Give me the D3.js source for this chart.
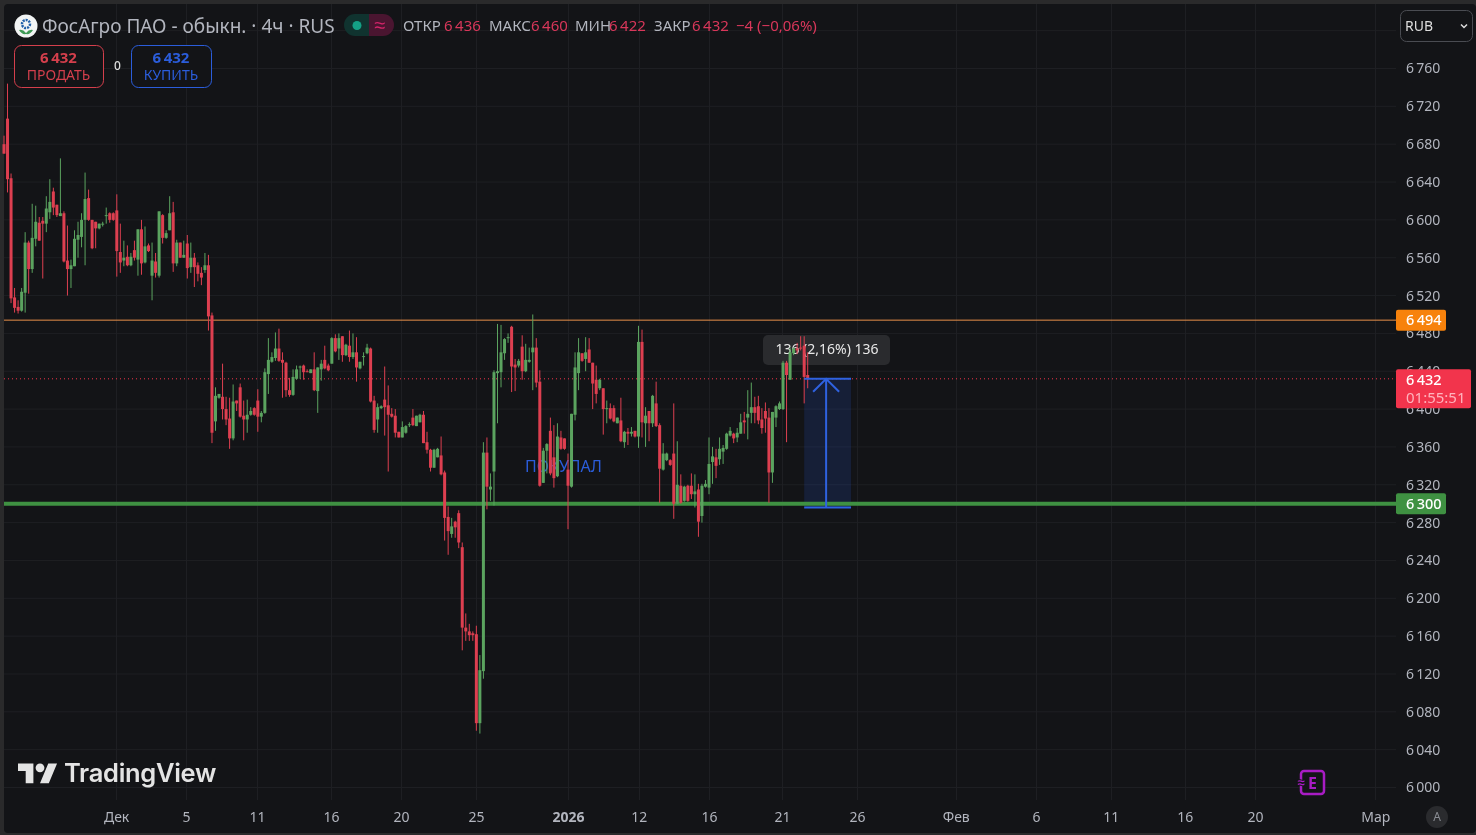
<!DOCTYPE html>
<html lang="ru">
<head>
<meta charset="utf-8">
<title>ФосАгро ПАО</title>
<script src="https://d3js.org/d3.v7.min.js"></script>
<style>
html,body{margin:0;padding:0;background:#2a2a2b;overflow:hidden}
svg{display:block;font-family:"Noto Sans",sans-serif;filter:blur(0.3px)}
</style>
</head>
<body>
<svg id="chart" width="1476" height="835"></svg>
<script>
const opens = [6680,6707,6644,6518,6508,6504,6523,6576,6548,6580,
6597,6599,6596,6608,6630,6616,6604,6607,6557,6548,
6551,6579,6582,6600,6623,6600,6598,6591,6595,6604,
6607,6607,6610,6566,6557,6561,6552,6568,6558,6590,
6555,6573,6541,6556,6541,6605,6581,6589,6608,6554,
6576,6560,6575,6550,6560,6552,6544,6547,6552,6499,
6387,6412,6413,6400,6390,6369,6409,6423,6393,6389,
6394,6401,6409,6392,6396,6437,6450,6454,6464,6452,
6449,6420,6415,6432,6444,6446,6440,6438,6442,6419,
6442,6452,6446,6448,6475,6464,6477,6457,6467,6455,
6460,6443,6455,6459,6464,6409,6389,6401,6410,6404,
6395,6393,6376,6370,6375,6383,6391,6382,6386,6394,
6365,6357,6338,6349,6351,6333,6286,6268,6281,6290,
6254,6169,6165,6163,6162,6068,6123,6354,6315,6334,
6438,6439,6459,6475,6487,6447,6446,6466,6440,6450,
6460,6465,6429,6322,6356,6377,6349,6329,6370,6369,
6336,6318,6394,6438,6459,6453,6463,6449,6431,6422,
6422,6400,6401,6401,6385,6388,6365,6376,6374,6377,
6371,6471,6385,6398,6385,6406,6383,6336,6346,6346,
6353,6300,6319,6303,6319,6319,6310,6315,6287,6318,
6317,6344,6349,6347,6355,6358,6372,6374,6370,6374,
6388,6391,6396,6402,6403,6389,6398,6391,6333,6391,
6400,6400,6449,6431,6459,6464,6465,6467,6436];

const closes = [6670,6643,6517,6507,6504,6524,6576,6548,6581,6598,
6578,6596,6612,6619,6613,6605,6607,6556,6548,6552,
6580,6584,6600,6622,6600,6570,6591,6596,6596,6605,
6600,6600,6567,6555,6560,6552,6561,6560,6590,6554,
6572,6567,6557,6544,6609,6581,6586,6607,6554,6576,
6560,6563,6549,6560,6550,6543,6539,6552,6498,6375,
6414,6416,6400,6389,6369,6408,6406,6392,6389,6394,
6398,6394,6392,6396,6439,6452,6455,6464,6451,6449,
6420,6415,6434,6442,6445,6439,6439,6442,6420,6444,
6448,6443,6441,6475,6461,6475,6457,6468,6455,6460,
6444,6450,6456,6465,6408,6378,6402,6403,6402,6394,
6392,6375,6370,6381,6382,6384,6383,6393,6394,6364,
6357,6338,6357,6358,6331,6285,6271,6276,6275,6259,
6169,6165,6161,6161,6068,6124,6354,6318,6318,6439,
6440,6460,6474,6476,6445,6444,6451,6440,6452,6452,
6465,6428,6319,6356,6363,6332,6327,6371,6358,6358,
6319,6395,6444,6460,6451,6460,6449,6427,6416,6431,
6400,6401,6390,6387,6391,6366,6376,6374,6376,6371,
6471,6386,6393,6385,6414,6382,6337,6353,6353,6341,
6300,6320,6301,6318,6303,6310,6313,6281,6319,6321,
6342,6350,6340,6358,6359,6374,6377,6369,6375,6386,
6386,6395,6402,6396,6388,6380,6390,6333,6397,6403,
6406,6449,6436,6460,6464,6462,6464,6434,6432];

const highs = [6689,6744,6649,6528,6515,6528,6587,6578,6617,6615,
6603,6603,6625,6643,6634,6616,6665,6609,6594,6558,
6589,6598,6607,6650,6632,6600,6598,6596,6598,6613,
6608,6608,6627,6596,6578,6573,6565,6578,6590,6600,
6593,6575,6576,6565,6609,6606,6589,6625,6619,6579,
6576,6578,6584,6576,6565,6555,6550,6565,6563,6502,
6423,6416,6448,6413,6412,6426,6409,6427,6409,6410,
6402,6402,6421,6398,6443,6475,6460,6481,6485,6460,
6450,6433,6442,6446,6446,6447,6442,6442,6460,6444,
6452,6467,6448,6476,6479,6480,6477,6469,6483,6480,
6476,6450,6460,6469,6465,6414,6406,6404,6445,6425,
6401,6400,6376,6387,6383,6386,6400,6393,6395,6398,
6376,6358,6358,6359,6371,6335,6297,6285,6282,6293,
6259,6184,6173,6165,6171,6140,6365,6370,6332,6441,
6490,6489,6475,6480,6488,6453,6453,6478,6469,6465,
6500,6475,6441,6359,6364,6391,6383,6385,6377,6369,
6353,6395,6460,6475,6459,6476,6475,6449,6446,6432,
6422,6409,6406,6404,6391,6412,6377,6380,6381,6377,
6488,6484,6402,6398,6415,6429,6385,6364,6354,6347,
6406,6366,6331,6319,6320,6332,6331,6321,6321,6325,
6370,6360,6358,6370,6362,6375,6381,6375,6380,6395,
6397,6420,6428,6413,6414,6401,6407,6401,6397,6404,
6408,6451,6451,6465,6465,6470,6477,6477,6460];

const lows = [6670,6629,6512,6502,6501,6503,6502,6522,6544,6572,
6578,6538,6587,6601,6605,6603,6604,6555,6520,6528,
6551,6560,6571,6552,6599,6569,6570,6590,6593,6596,
6597,6599,6540,6544,6551,6551,6551,6557,6541,6542,
6554,6566,6515,6539,6539,6575,6580,6589,6545,6551,
6560,6560,6538,6544,6529,6535,6531,6544,6483,6364,
6377,6411,6389,6383,6358,6367,6398,6391,6367,6375,
6393,6393,6376,6386,6395,6416,6449,6451,6450,6412,
6413,6413,6414,6431,6432,6431,6439,6438,6419,6396,
6430,6442,6440,6448,6460,6452,6450,6456,6450,6453,
6429,6442,6446,6458,6407,6375,6375,6400,6372,6334,
6391,6370,6370,6370,6374,6381,6382,6382,6386,6364,
6353,6334,6338,6349,6330,6261,6246,6264,6264,6253,
6145,6155,6155,6155,6060,6057,6115,6294,6303,6298,
6385,6423,6452,6470,6418,6419,6444,6431,6439,6449,
6420,6423,6318,6322,6332,6330,6317,6328,6357,6357,
6273,6317,6388,6420,6450,6440,6449,6400,6406,6420,
6373,6385,6389,6386,6385,6365,6359,6362,6371,6370,
6359,6370,6360,6366,6381,6381,6301,6335,6345,6340,
6284,6300,6300,6302,6302,6305,6296,6265,6280,6317,
6310,6321,6327,6341,6342,6357,6371,6364,6365,6374,
6374,6368,6385,6385,6384,6374,6375,6301,6322,6381,
6399,6399,6365,6431,6457,6458,6462,6406,6422];

const priceTicks = [6760,6720,6680,6640,6600,6560,6520,6480,6440,6400,6360,6320,6280,6240,6200,6160,6120,6080,6040,6000];
const gridOnlyPrices = [6800];
const timeTickBars = [31.8,51.6,71.8,92.8,112.6,133.9,160,180.1,200,220.7,242,270,292.8,314,335,354.9,389];
const timeTickLabels = ["Дек","5","11","16","20","25","2026","12","16","21","26","Фев","6","11","16","20","Мар"];
const resistanceLevel = 6494;
const supportLevel = 6300;
const lastPrice = 6432;
const rulerBottomPrice = 6296;
const rulerBars = [227, 240.3];
const legendValues = {open:6436, high:6460, low:6422, close:6432};

const W = 1476, H = 835;
const paneLeft = 4, paneRight = 1396, paneBottom = 800;
const colors = {bg:"#131417", grid:"#1e1f23", text:"#b2b5be", up:"#5ba35f", down:"#dd3f50", legendRed:"#d8375a",
  orange:"#f7820c", green:"#3f9142", red:"#f2344c", blue:"#2b5ddb"};

const svg = d3.select("#chart");
const x = d3.scaleLinear().domain([0,400]).range([4, 4 + 400*3.525]);
const y = d3.scaleLinear().domain([6000,6760]).range([787.5,68.5]);
const fmtLocale = d3.formatLocale({decimal:",", thousands:"\u202f", grouping:[3], currency:["",""]});
const fmt = fmtLocale.format(",d");

// frame and pane
svg.append("rect").attr("width",W).attr("height",H).attr("fill","#2a2a2b");
svg.append("rect").attr("x",paneLeft).attr("y",4).attr("width",W-paneLeft).attr("height",H-6).attr("rx",4).attr("fill",colors.bg);

// grid
const gridG = svg.append("g").attr("fill","none").attr("stroke",colors.grid).attr("stroke-width",1);
gridG.selectAll("line.h").data(priceTicks.concat(gridOnlyPrices)).join("line").attr("class","h")
  .attr("x1",paneLeft).attr("x2",paneRight).attr("y1",d=>y(d)).attr("y2",d=>y(d));
gridG.selectAll("line.v").data(timeTickBars).join("line").attr("class","v")
  .attr("x1",d=>Math.round(x(d))+.5).attr("x2",d=>Math.round(x(d))+.5).attr("y1",4).attr("y2",paneBottom);

// axes
const yAxis = d3.axisRight(y).tickValues(priceTicks).tickSize(0).tickPadding(10).tickFormat(fmt);
const yG = svg.append("g").attr("transform",`translate(${paneRight},0)`).call(yAxis);
yG.select(".domain").remove();
yG.selectAll("text").attr("fill",colors.text).attr("font-size",14).attr("font-family",'"Noto Sans",sans-serif');

const xAxis = d3.axisBottom(x).tickValues(timeTickBars).tickSize(0).tickPadding(0)
  .tickFormat((d,i)=>timeTickLabels[i]);
const xG = svg.append("g").attr("transform","translate(0,812)").call(xAxis);
xG.select(".domain").remove();
xG.selectAll("text").attr("fill",colors.text).attr("font-size",14).attr("font-family",'"Noto Sans",sans-serif')
  .attr("font-weight",(d,i)=>timeTickLabels[i]==="2026"?700:400);

// note text beneath candles
svg.append("text").attr("x",525).attr("y",472).attr("fill",colors.blue).attr("font-size",16).text("ПОКУПАЛ");

// ruler
const rx0 = x(rulerBars[0]), rx1 = x(rulerBars[1]), ry0 = y(lastPrice), ry1 = y(rulerBottomPrice);
const rc = (rx0+rx1)/2 - 1.5;
const ruler = svg.append("g");
ruler.append("rect").attr("x",rx0).attr("y",ry0).attr("width",rx1-rx0).attr("height",ry1-ry0).attr("fill","#2962ff").attr("fill-opacity",.14);

// tooltip
svg.append("rect").attr("x",763).attr("y",335).attr("width",127).attr("height",30).attr("rx",5).attr("fill","#2a2b2e");
svg.append("text").attr("x",827).attr("y",354).attr("text-anchor","middle").attr("fill","#e8e8e8").attr("font-size",14).text("136 (2,16%) 136");

// level lines
const drawLevel = (p,c,w,dash)=>{
  svg.append("line").attr("x1",paneLeft).attr("x2",paneRight).attr("y1",y(p)).attr("y2",y(p))
    .attr("stroke",c).attr("stroke-width",w).attr("stroke-dasharray",dash||null);
};
drawLevel(lastPrice,colors.red,1,"1 3");
drawLevel(resistanceLevel,"#e8904a",1);
drawLevel(supportLevel,colors.green,4);

// candles
const bars = opens.map((o,i)=>({i,o,c:closes[i],h:highs[i],l:lows[i]}));
const color = d=>d.c>=d.o?colors.up:colors.down;
const candles = svg.append("g");
candles.selectAll("line").data(bars).join("line")
  .attr("x1",d=>x(d.i)).attr("x2",d=>x(d.i)).attr("y1",d=>y(d.h)).attr("y2",d=>y(d.l))
  .attr("stroke",color).attr("stroke-width",1);
candles.selectAll("rect").data(bars).join("rect")
  .attr("x",d=>x(d.i)-1.5).attr("width",3)
  .attr("y",d=>y(Math.max(d.o,d.c)))
  .attr("height",d=>Math.max(1,Math.abs(y(d.o)-y(d.c))))
  .attr("fill",color);

// ruler lines on top
const rl = svg.append("g").attr("stroke","#2f62e0").attr("fill","none");
rl.append("line").attr("x1",rx0).attr("x2",rx1).attr("y1",ry0).attr("y2",ry0).attr("stroke-width",2);
rl.append("line").attr("x1",rx0).attr("x2",rx1).attr("y1",ry1).attr("y2",ry1).attr("stroke-width",2);
rl.append("line").attr("x1",rc).attr("x2",rc).attr("y1",ry1).attr("y2",ry0).attr("stroke-width",2);
rl.append("path").attr("d",`M${rc-13},${ry0+13}L${rc},${ry0}L${rc+13},${ry0+13}`).attr("stroke-width",2);

// price labels
const priceLabel = (p,w,c)=>{
  const yy = y(p);
  svg.append("rect").attr("x",paneRight).attr("y",yy-10.5).attr("width",w).attr("height",21).attr("rx",2).attr("fill",c);
  svg.append("text").attr("x",1406).attr("y",yy+5).attr("fill","#fff").attr("font-size",14.5).attr("font-weight",500).text(fmt(p));
};
priceLabel(resistanceLevel,50,colors.orange);
priceLabel(supportLevel,50,colors.green);
svg.append("rect").attr("x",paneRight).attr("y",y(lastPrice)-9.5).attr("width",75).attr("height",39).attr("rx",2).attr("fill",colors.red);
svg.append("text").attr("x",1406).attr("y",y(lastPrice)+6).attr("fill","#fff").attr("font-size",14.5).attr("font-weight",500).text(fmt(lastPrice));
svg.append("text").attr("x",1406).attr("y",y(lastPrice)+24).attr("fill","#ffb3bd").attr("font-size",15).text("01:55:51");

// legend header
const logo = svg.append("g").attr("transform","translate(26,26)");
logo.append("circle").attr("r",11.5).attr("fill","#f2f4f4");
logo.append("circle").attr("cy",-2).attr("r",4).attr("fill","none").attr("stroke","#1f5fa8").attr("stroke-width",2.5).attr("stroke-dasharray","2 1");
logo.append("path").attr("d","M-7,4Q-3,3 0,7Q3,3 7,4Q4,9 0,8Q-4,9 -7,4Z").attr("fill","#3f9a56");
svg.append("text").attr("x",42).attr("y",33).attr("fill",colors.text).attr("font-size",19).text("ФосАгро ПАО - обыкн. · 4ч · RUS");

svg.append("path").attr("d","M369,14H355a11,11 0 0 0 0,22H369Z").attr("fill","#10332f");
svg.append("path").attr("d","M369,14H383a11,11 0 0 1 0,22H369Z").attr("fill","#4a1530");
svg.append("circle").attr("cx",357).attr("cy",25.5).attr("r",4.5).attr("fill","#14a085");
svg.append("text").attr("x",380).attr("y",32).attr("text-anchor","middle").attr("fill","#d4246a").attr("font-size",20).text("≈");

const legendItems = [
  [403,"ОТКР",colors.text],[444,fmt(legendValues.open),colors.legendRed],
  [489,"МАКС",colors.text],[531,fmt(legendValues.high),colors.legendRed],
  [575,"МИН",colors.text],[609,fmt(legendValues.low),colors.legendRed],
  [654,"ЗАКР",colors.text],[692,fmt(legendValues.close),colors.legendRed],
  [736,"−4 (−0,06%)",colors.legendRed]];
svg.append("g").selectAll("text").data(legendItems).join("text")
  .attr("x",d=>d[0]).attr("y",31).attr("fill",d=>d[2]).attr("font-size",15).text(d=>d[1]);

// order buttons
const btn = (bx,bw,c,price,label)=>{
  svg.append("rect").attr("x",bx+.5).attr("y",45.5).attr("width",bw).attr("height",42).attr("rx",7)
    .attr("fill",colors.bg).attr("stroke",c);
  svg.append("text").attr("x",bx+bw/2).attr("y",63).attr("text-anchor","middle").attr("fill",c).attr("font-size",15).attr("font-weight",700).text(price);
  svg.append("text").attr("x",bx+bw/2).attr("y",80).attr("text-anchor","middle").attr("fill",c).attr("font-size",14).text(label);
};
btn(14,89,"#d43f4c",fmt(lastPrice),"ПРОДАТЬ");
btn(131,80,colors.blue,fmt(lastPrice),"КУПИТЬ");
svg.append("text").attr("x",117.5).attr("y",70).attr("text-anchor","middle").attr("fill","#dddddd").attr("font-size",12).attr("font-weight",500).text("0");

// currency selector
svg.append("rect").attr("x",1400.5).attr("y",10.5).attr("width",72).attr("height",31).attr("rx",6).attr("fill",colors.bg).attr("stroke","#4a4c52");
svg.append("text").attr("x",1405).attr("y",31).attr("fill","#dddddd").attr("font-size",14).text("RUB");
svg.append("path").attr("d","M1461,24.5L1464,27.5L1467,24.5").attr("fill","none").attr("stroke","#dddddd").attr("stroke-width",1.5);

// TradingView watermark
const tv = svg.append("g").attr("transform","translate(18,759) scale(1.1)").attr("fill","#e4e4e4");
tv.append("path").attr("d","M14 22H7V11H0V4h14v18zM28 22h-8l7.5-18h8L28 22z");
tv.append("circle").attr("cx",20).attr("cy",8).attr("r",4);
svg.append("text").attr("x",64).attr("y",782).attr("fill","#e4e4e4").attr("font-family","Inter,sans-serif").attr("font-weight",600).attr("font-size",25.5).attr("letter-spacing",-0.3).text("TradingView");

// earnings icon
const e = svg.append("g");
e.append("rect").attr("x",1301).attr("y",771).attr("width",23).attr("height",23).attr("rx",3).attr("fill",colors.bg).attr("stroke","#a81cc4").attr("stroke-width",2.5);
e.append("text").attr("x",1312.5).attr("y",788.5).attr("text-anchor","middle").attr("fill","#a81cc4").attr("font-size",16).attr("font-weight",700).text("E");
e.append("text").attr("x",1301).attr("y",787).attr("text-anchor","middle").attr("stroke",colors.bg).attr("stroke-width",2).attr("paint-order","stroke").attr("fill","#a81cc4").attr("font-size",13).attr("font-weight",700).text("≈");

// auto button
svg.append("circle").attr("cx",1437).attr("cy",817).attr("r",11).attr("fill","#2a2b2e");
svg.append("text").attr("x",1437).attr("y",821).attr("text-anchor","middle").attr("fill","#8a8d94").attr("font-size",12).text("A");
</script>
</body>
</html>
